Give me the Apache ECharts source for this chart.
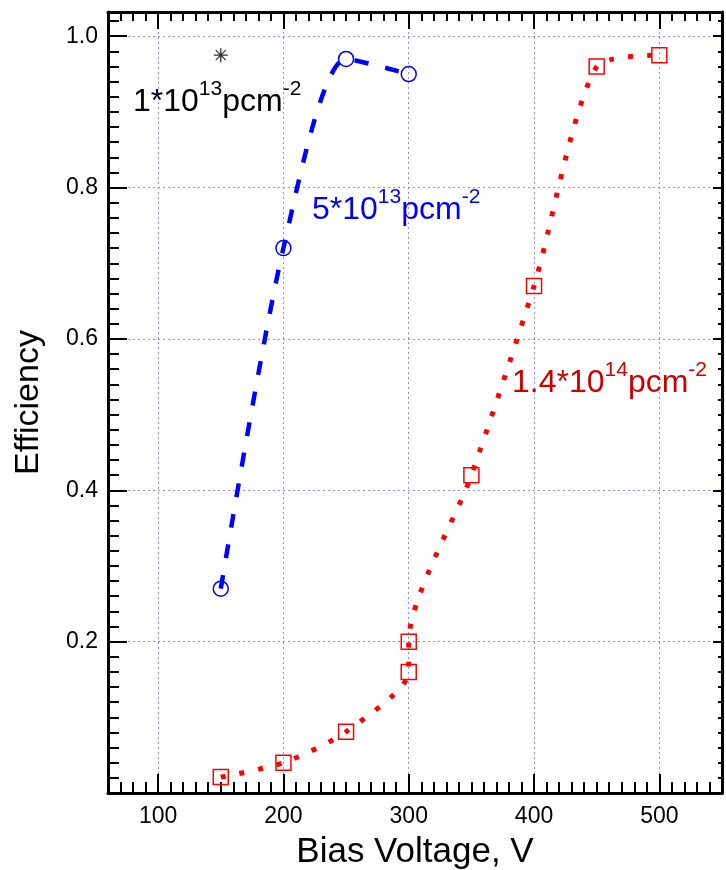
<!DOCTYPE html>
<html>
<head>
<meta charset="utf-8">
<script src="https://cdn.jsdelivr.net/npm/echarts@6/dist/echarts.min.js"></script>
<style>
html,body{margin:0;padding:0;background:#fff;}
#c{width:726px;height:870px;}
</style>
</head>
<body>
<div id="c"></div>
<script>
// ---- data ----
const xTicks = [100, 200, 300, 400, 500];
const yTicks = [0.2, 0.4, 0.6, 0.8, 1.0];
const blueX = [150, 200, 250, 300];
const blueY = [0.27, 0.72, 0.97, 0.95];
const redX = [150, 200, 250, 300, 300, 350, 400, 450, 500];
const redY = [0.021, 0.04, 0.081, 0.16, 0.20, 0.42, 0.67, 0.96, 0.975];
const starX = [150];
const starY = [0.975];
const labelBlack = ['1*10', '13', 'pcm', '-2'];
const labelBlue = ['5*10', '13', 'pcm', '-2'];
const labelRed = ['1.4*10', '14', 'pcm', '-2'];

const FONT = '"Liberation Sans", Arial, Helvetica, sans-serif';
const xMin = 60, xMax = 550, yMin = 0, yMax = 1.032;

function pairs(xs, ys) { return xs.map((x, i) => [x, ys[i]]); }

function minorX(pos, len) {
  return {
    type: 'value', min: xMin, max: xMax, interval: 10, position: pos,
    axisLine: { show: true, onZero: false, lineStyle: { color: '#000', width: 3 } },
    axisTick: { show: true, inside: true, length: len, lineStyle: { color: '#000', width: 2 } },
    axisLabel: { show: false }, splitLine: { show: false }
  };
}
function majorX(pos, len, labels, grid) {
  return {
    type: 'value', min: xMin, max: xMax, position: pos,
    axisLine: { show: false, onZero: false },
    axisTick: { show: true, inside: true, length: len, customValues: xTicks, lineStyle: { color: '#000', width: 2 } },
    axisLabel: labels ? { show: true, customValues: xTicks, fontSize: 23, color: '#000', fontFamily: FONT, margin: 12 } : { show: false },
    splitLine: grid ? { show: true, lineStyle: { color: '#8c8cff', width: 1, type: [2, 3] } } : { show: false },
    name: labels ? 'Bias Voltage, V' : '',
    nameLocation: 'middle', nameGap: 42,
    nameTextStyle: { fontSize: 35, color: '#000', fontFamily: FONT }
  };
}
function minorY(pos, len) {
  return {
    type: 'value', min: yMin, max: yMax, interval: 0.02, position: pos,
    axisLine: { show: true, onZero: false, lineStyle: { color: '#000', width: 3 } },
    axisTick: { show: true, inside: true, length: len, lineStyle: { color: '#000', width: 2 } },
    axisLabel: { show: false }, splitLine: { show: false }
  };
}
function majorY(pos, len, labels, grid) {
  return {
    type: 'value', min: yMin, max: yMax, position: pos,
    axisLine: { show: false, onZero: false },
    axisTick: { show: true, inside: true, length: len, customValues: yTicks, lineStyle: { color: '#000', width: 2 } },
    axisLabel: labels ? { show: true, customValues: yTicks, fontSize: 23, color: '#000', fontFamily: FONT, margin: 10,
      formatter: v => v.toFixed(1) } : { show: false },
    splitLine: grid ? { show: true, lineStyle: { color: '#8c8cff', width: 1, type: [2, 3] } } : { show: false },
    name: labels ? 'Efficiency' : '',
    nameLocation: 'middle', nameGap: 62, nameRotate: 90,
    nameTextStyle: { fontSize: 34, color: '#000', fontFamily: FONT }
  };
}

function richLabel(parts, x, y, color) {
  return {
    type: 'text', x: x, y: y, z: 100,
    style: {
      text: '{b|' + parts[0] + '}{s|' + parts[1] + '}{b|' + parts[2] + '}{s|' + parts[3] + '}',
      verticalAlign: 'top', align: 'left',
      rich: {
        b: { fontSize: 32, fontFamily: FONT, fill: color, color: color, lineHeight: 39, verticalAlign: 'bottom' },
        s: { fontSize: 21, fontFamily: FONT, fill: color, color: color, lineHeight: 21, verticalAlign: 'top' }
      }
    }
  };
}

const chart = echarts.init(document.getElementById('c'), null, { renderer: 'canvas' });
chart.setOption({
  animation: false,
  backgroundColor: '#fff',
  grid: { left: 108, right: 4, top: 12, bottom: 77, containLabel: false, outerBoundsMode: 'none' },
  xAxis: [majorX('bottom', 19, true, true), minorX('bottom', 11), majorX('top', 17, false, false), minorX('top', 9)],
  yAxis: [majorY('left', 19, true, true), minorY('left', 11), majorY('right', 9, false, false), minorY('right', 4)],
  series: [
    {
      type: 'line', data: pairs(redX, redY), smooth: 0.25,
      symbol: 'rect', symbolSize: 15,
      itemStyle: { color: 'rgba(0,0,0,0)', borderColor: '#ff0000', borderWidth: 1.5 },
      lineStyle: { color: '#ff0000', width: 5, type: [5, 14], cap: 'butt' },
      z: 3
    },
    {
      type: 'line', data: pairs(blueX, blueY), smooth: 0.25,
      symbol: 'circle', symbolSize: 15,
      itemStyle: { color: 'rgba(0,0,0,0)', borderColor: '#0000ff', borderWidth: 1.5 },
      lineStyle: { color: '#0000ff', width: 4.5, type: [14, 17], cap: 'butt' },
      z: 3
    },
    {
      type: 'scatter', data: pairs(starX, starY),
      symbol: 'path://M0,-8L0,8M-8,0L8,0M-5.7,-5.7L5.7,5.7M-5.7,5.7L5.7,-5.7', symbolSize: 14,
      itemStyle: { color: 'rgba(0,0,0,0)', borderColor: '#000', borderWidth: 1.3 },
      z: 3
    }
  ],
  graphic: [
    richLabel(labelBlack, 133, 79, '#000'),
    richLabel(labelBlue, 312, 187, '#0000ff'),
    richLabel(labelRed, 512, 360, '#cc0000')
  ]
});
</script>
</body>
</html>
